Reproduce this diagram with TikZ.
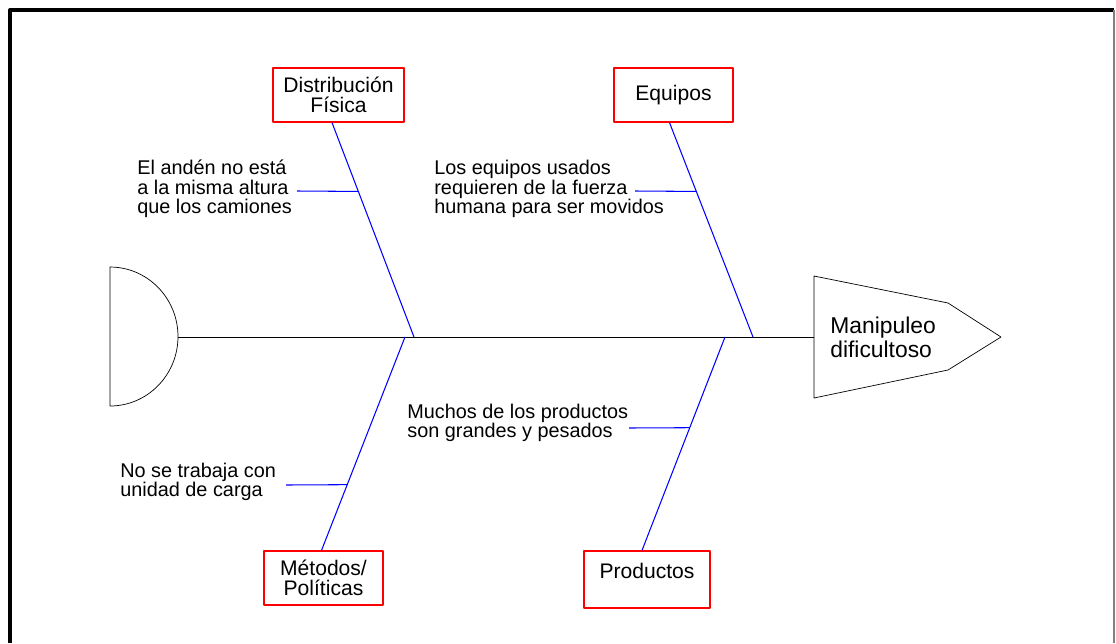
\documentclass[tikz,border=0pt]{standalone}
\usepackage{fontspec}
\setmainfont{Liberation Sans}
\usetikzlibrary{positioning,calc}
\definecolor{boxred}{RGB}{255,0,0}
\definecolor{boneblue}{RGB}{0,0,255}

\begin{document}
\begin{tikzpicture}[x=0.02cm,y=-0.02cm, line join=round,
  cause/.style={draw=boxred,line width=0.7pt,align=center,inner sep=0pt,font=\fontsize{12}{11.5}\selectfont},
  note/.style={anchor=west,align=left,inner sep=0pt,font=\fontsize{11.3}{11}\selectfont},
  bone/.style={draw=boneblue,line width=0.6pt}]
\useasboundingbox (0,0) rectangle (1116,643);
\draw[line width=2.3pt] (10,643) -- (10,10) -- (1114,10);
\draw[gray,line width=0.6pt] (1114,10) -- (1114,643);

\node[cause,minimum width=2.62cm,minimum height=1.08cm] (dist)  at (338.5,95)  {Distribución\\Física};
\node[cause,minimum width=2.38cm,minimum height=1.08cm] (equip) at (673.5,95)  {Equipos};
\node[cause,minimum width=2.38cm,minimum height=1.08cm] (metod) at (323.5,578) {Métodos/\\Políticas};
\node[cause,minimum width=2.52cm,minimum height=1.14cm,text depth=10pt] (prod) at (647,579.5) {Productos};

\node[note] (c1) at (137,189) {El andén no está\\a la misma altura\\que los camiones};
\node[note] (c2) at (434,189) {Los equipos usados\\requieren de la fuerza\\humana para ser movidos};
\node[note] (c3) at (120,482) {No se trabaja con\\unidad de carga};
\node[note] (c4) at (407,423) {Muchos de los productos\\son grandes y pesados};

\draw (110,406) arc[start angle=-90,end angle=90,x radius=1.36cm,y radius=1.39cm] -- cycle;
\draw (814,276) -- (948,303) -- (1001,337) -- (948,370) -- (814,398) -- cycle;
\node[anchor=west,align=left,inner sep=0pt,font=\fontsize{13}{13.6}\selectfont] (effect) at (830,337) {Manipuleo\\dificultoso};
\coordinate (tail) at (178,337);
\coordinate (head) at (814,337);
\draw (tail) -- (head);

\coordinate (j1) at (414,337);
\coordinate (j2) at (753,337);
\coordinate (j3) at (405,337);
\coordinate (j4) at (725,337);
\coordinate (t1) at ([xshift=-0.13cm]dist.south);
\coordinate (t2) at ([xshift=-0.08cm]equip.south);
\coordinate (t3) at ([xshift=-0.04cm]metod.north);
\coordinate (t4) at ([xshift=-0.1cm]prod.north);
\draw[bone] (t1) -- (j1);
\draw[bone] (t2) -- (j2);
\draw[bone] (j3) -- (t3);
\draw[bone] (j4) -- (t4);

\coordinate (s1) at ($(t1)!0.321!(j1)$);
\coordinate (s2) at ($(t2)!0.321!(j2)$);
\coordinate (s3) at ($(j3)!0.692!(t3)$);
\coordinate (s4) at ($(j4)!0.425!(t4)$);
\coordinate (e1) at (297,191);
\coordinate (e2) at (635,191);
\coordinate (e3) at (286,485);
\coordinate (e4) at (629,428);
\draw[bone] (e1) -- (s1);
\draw[bone] (e2) -- (s2);
\draw[bone] (e3) -- (s3);
\draw[bone] (e4) -- (s4);
\end{tikzpicture}
\end{document}
